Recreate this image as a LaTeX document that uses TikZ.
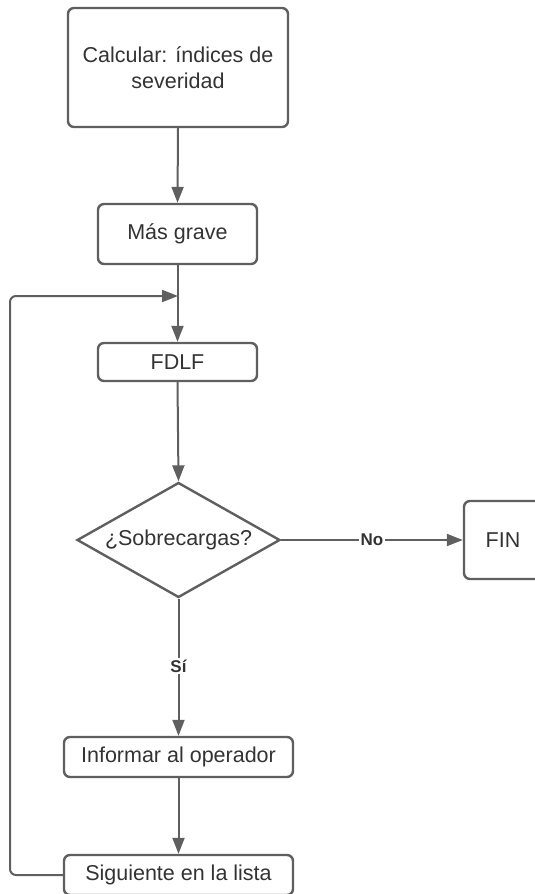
\documentclass[tikz,border=0pt]{standalone}
\usepackage{fontspec}
\setmainfont{Liberation Sans}
\usetikzlibrary{shapes.geometric,arrows.meta}
\definecolor{edge}{HTML}{5F5F5F}
\definecolor{ink}{HTML}{333333}
\begin{document}
\begin{tikzpicture}[x=1pt,y=-1pt,
  every node/.style={text=ink,font=\fontsize{21.5}{26}\selectfont,align=center},
  procbox/.style={draw=edge,line width=2.4pt,rounded corners=6pt,fill=white,inner sep=0pt},
  decision/.style={draw=edge,line width=2.4pt,diamond,inner sep=0pt,aspect=1.77,
    minimum width=203pt,minimum height=115pt,fill=white},
  conn/.style={draw=edge,line width=2pt,-{Triangle[length=16pt,width=12pt]}},
  tag/.style={fill=white,inner sep=1.5pt,font=\fontsize{17}{20}\selectfont\bfseries}]
  \useasboundingbox (0,0) rectangle (535,894);
  \clip (0,0) rectangle (535,894);

  % process steps
  \node[procbox,minimum width=220pt,minimum height=119pt] (calc) at (178,67.5)
    {Calcular: índices de\\severidad};
  \node[procbox,minimum width=159pt,minimum height=60pt] (grave) at (177.5,234) {Más grave};
  \node[procbox,minimum width=159pt,minimum height=38pt] (fdlf) at (177.5,362) {FDLF};
  \node[decision] (sobre) at (178.5,540) {¿Sobrecargas?};
  \node[procbox,minimum width=78pt,minimum height=78pt] (fin) at (503,540) {FIN};
  \node[procbox,minimum width=229pt,minimum height=40pt] (inf) at (178.5,757) {Informar al operador};
  \node[procbox,minimum width=229pt,minimum height=40pt] (sig) at (178.5,875) {Siguiente en la lista};

  % loop-back junction points
  \coordinate (jn) at (178,296);
  \coordinate (lc) at (10,296);

  % connectors
  \draw[conn] (calc.south) -- (grave.north);
  \draw[conn] (grave.south) -- (fdlf.north);
  \draw[conn] (fdlf.south) -- (sobre.north);
  \draw[conn] (sobre.east) -- node[tag,pos=0.5] {No} (fin.west);
  \draw[conn] (sobre.south) -- node[tag,pos=0.49] {Sí} (inf.north);
  \draw[conn] (inf.south) -- (sig.north);
  \draw[conn,rounded corners=6pt] (sig.west) -| (lc) -- (jn);
\end{tikzpicture}
\end{document}
